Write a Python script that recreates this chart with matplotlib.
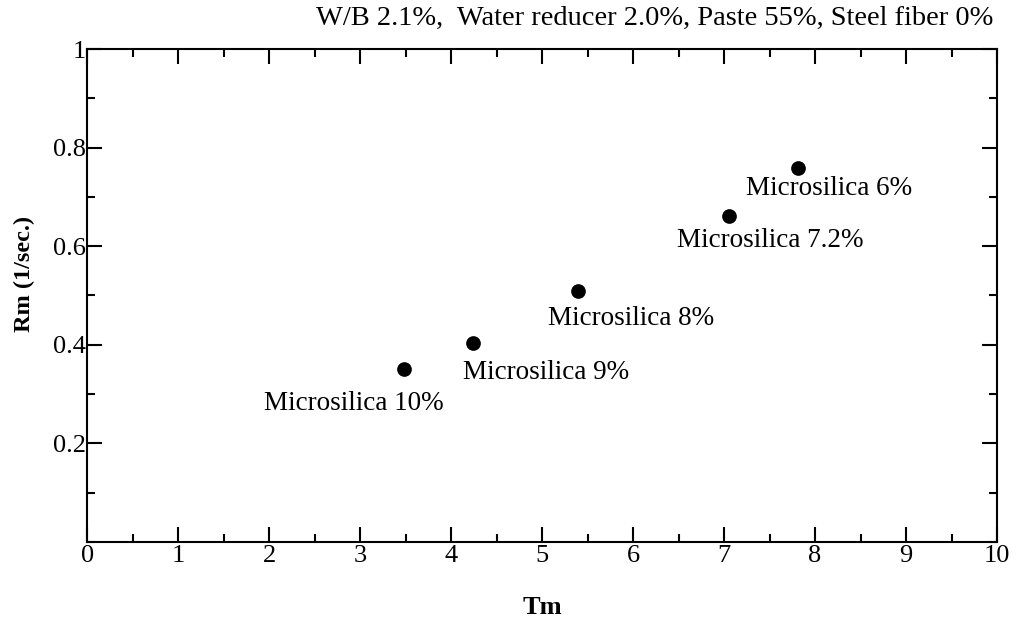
import matplotlib
matplotlib.use("Agg")
import matplotlib.pyplot as plt
from matplotlib.ticker import MultipleLocator, FixedLocator, FixedFormatter

plt.rcParams["font.family"] = ["Liberation Serif", "DejaVu Serif"]

# Measured data
tm = [3.48, 4.24, 5.39, 7.05, 7.81]
rm = [0.350, 0.403, 0.510, 0.661, 0.758]
labels = ["Microsilica 10%", "Microsilica 9%", "Microsilica 8%",
          "Microsilica 7.2%", "Microsilica 6%"]
# label offsets (points) from each marker: left edge x, baseline y
label_offsets = [(-101, -29), (-7, -26), (-21, -25), (-37, -22), (-37, -19)]

x_ticks = [0, 1, 2, 3, 4, 5, 6, 7, 8, 9, 10]
x_ticklabels = ["0", "1", "2", "3", "4", "5", "6", "7", "8", "9", "10"]
y_ticks = [0.2, 0.4, 0.6, 0.8, 1.0]
y_ticklabels = ["0.2", "0.4", "0.6", "0.8", "1"]

title = "W/B 2.1%,  Water reducer 2.0%, Paste 55%, Steel fiber 0%"

W, H = 1019, 623
fig = plt.figure(figsize=(W / 100, H / 100), dpi=100)
L, R, B, T = 87.3, 997, 542, 49
ax = fig.add_axes([L / W, 1 - B / H, (R - L) / W, (B - T) / H])

ax.scatter(tm, rm, s=112, color="black", zorder=3, linewidths=0)
for x, y, lab, (dx, dy) in zip(tm, rm, labels, label_offsets):
    ax.annotate(lab, (x, y), xytext=(dx, dy), textcoords="offset points",
                ha="left", va="baseline", fontsize=19.5)

ax.set_xlim(0, 10)
ax.set_ylim(0, 1)
ax.xaxis.set_major_locator(FixedLocator(x_ticks))
ax.xaxis.set_major_formatter(FixedFormatter(x_ticklabels))
ax.yaxis.set_major_locator(FixedLocator(y_ticks))
ax.yaxis.set_major_formatter(FixedFormatter(y_ticklabels))
ax.xaxis.set_minor_locator(MultipleLocator(0.5))
ax.yaxis.set_minor_locator(MultipleLocator(0.1))

for sp in ax.spines.values():
    sp.set_linewidth(1.5)
ax.tick_params(which="both", direction="in", top=True, right=True,
               width=1.5, labelsize=19)
ax.tick_params(which="major", length=11)
ax.tick_params(which="minor", length=6)
ax.tick_params(axis="x", pad=2)
ax.tick_params(axis="y", pad=1)

ax.set_xlabel("Tm", fontsize=19, fontweight="bold")
ax.set_ylabel("Rm (1/sec.)", fontsize=17.5, fontweight="bold")
ax.xaxis.set_label_coords(0.5, (B - 607) / (B - T))
ax.yaxis.set_label_coords((24 - L) / (R - L), (B - 274) / (B - T))
ax.xaxis.label.set_va("center")
ax.yaxis.label.set_va("center")

fig.text(993 / W, 1 - 25 / H, title, ha="right", va="baseline", fontsize=20.5)

fig.savefig("out.png", dpi=100)
